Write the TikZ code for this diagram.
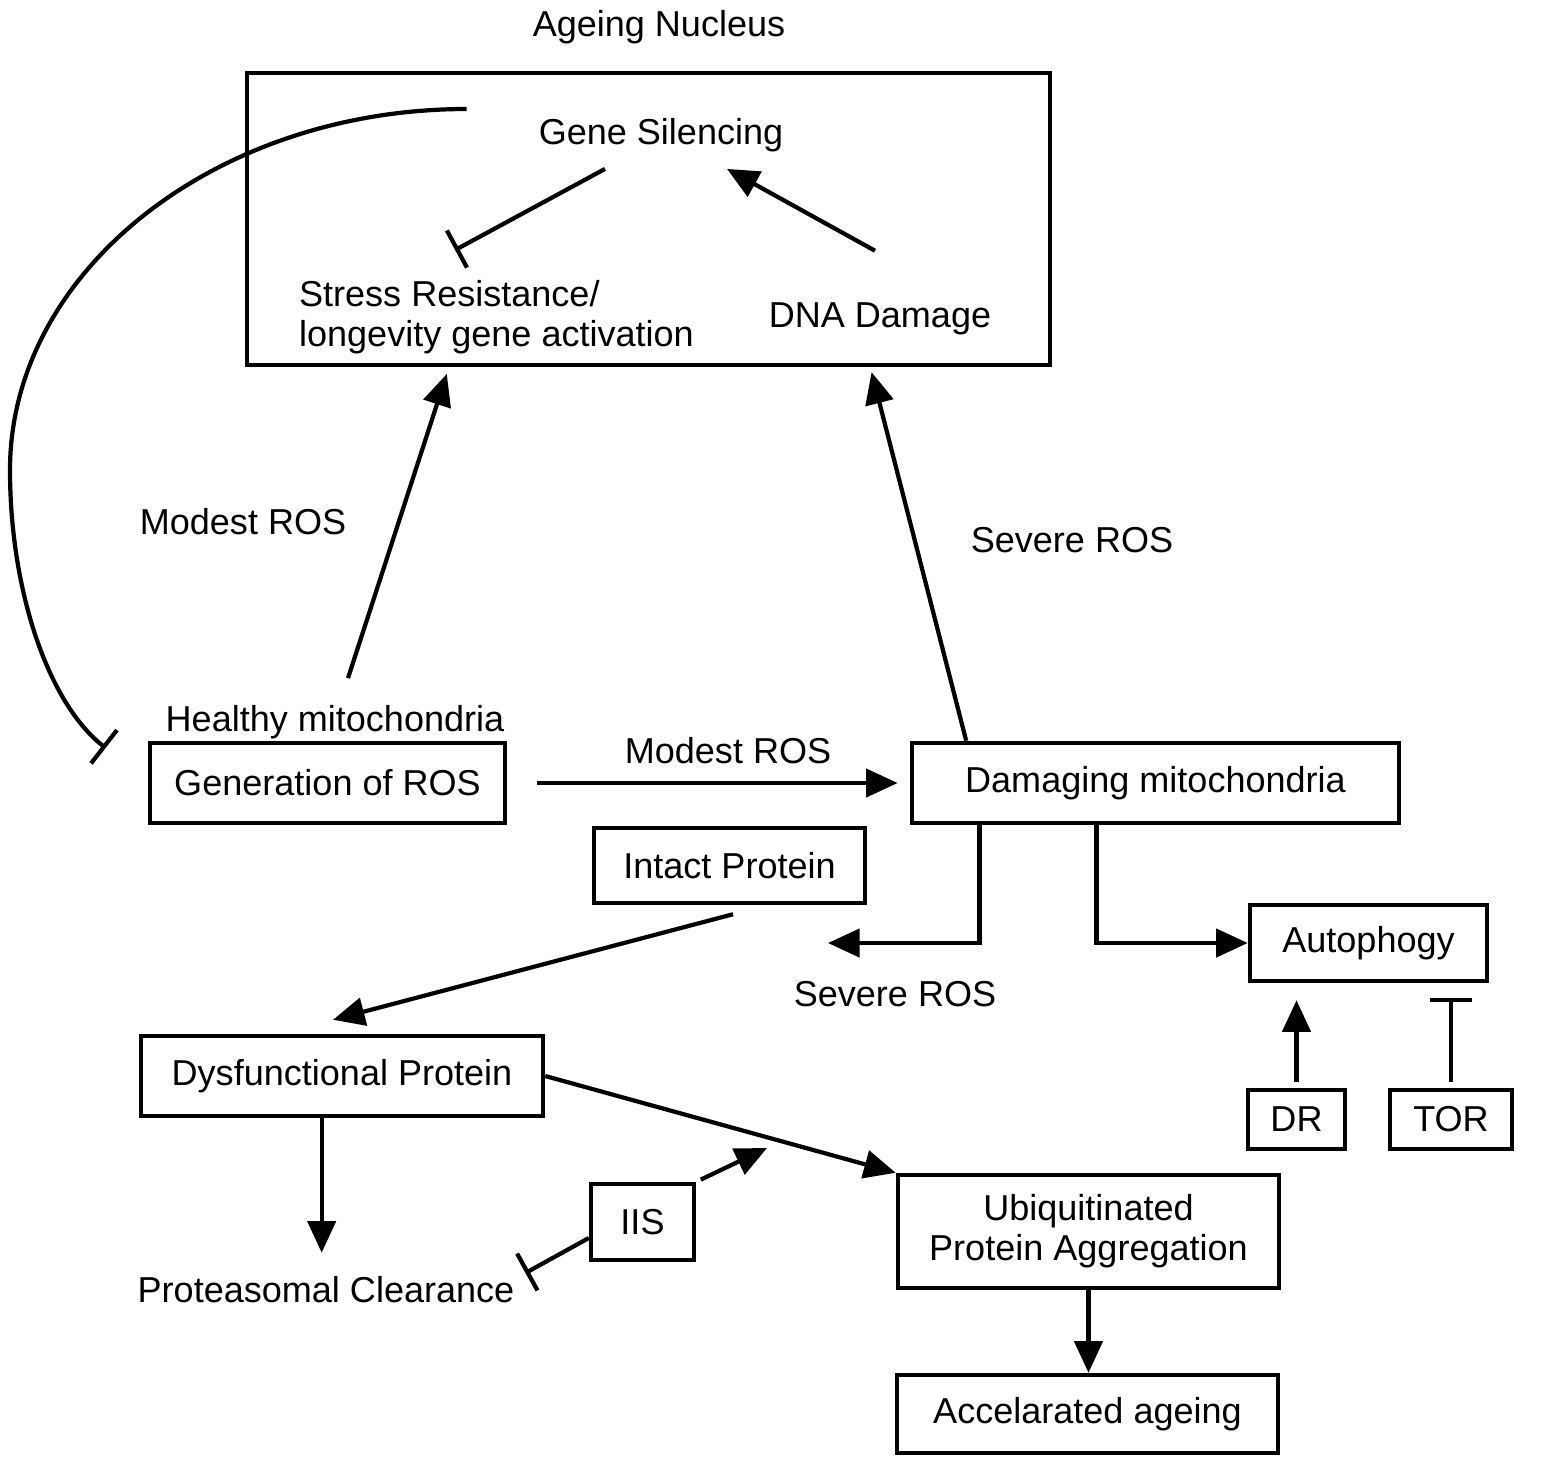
\documentclass[tikz,border=0pt]{standalone}
\usepackage{fontspec}
\setmainfont{Liberation Sans}
\usetikzlibrary{arrows.meta,calc}
\begin{document}
\begin{tikzpicture}[x=0.01cm,y=-0.01cm,line width=1.2pt,
  every node/.style={font=\fontsize{10.25}{11.4}\selectfont,inner sep=0pt},
  box/.style={draw,line width=1.25pt,inner sep=0pt},
  arr/.style={-{Triangle[length=9pt,width=8pt]}},
  inh/.style={-{Bar[width=12pt]}}]
\useasboundingbox (0,0) rectangle (1542,1465);
% nucleus
\node[box,minimum width=8.03cm,minimum height=2.92cm] (nucleus) at (648.5,219) {};
\node (title) at (659,27) {Ageing Nucleus};
\node (gs) at (661,135) {Gene Silencing};
\node[anchor=west,align=left] (ssr) at (297,317) {Stress Resistance/\\longevity gene activation};
\node (dna) at (880,319) {DNA Damage};
% mitochondria
\node (hm) at (335,722) {Healthy mitochondria};
\node[box,minimum width=3.55cm,minimum height=0.80cm] (gen) at (327.5,783) {Generation of ROS};
\node[box,minimum width=4.87cm,minimum height=0.80cm] (dam) at (1155.5,783) {Damaging mitochondria};
\node[box,minimum width=2.71cm,minimum height=0.75cm] (intact) at (729.5,865.5) {Intact Protein};
\node[box,minimum width=2.37cm,minimum height=0.76cm] (auto) at (1368.5,943) {Autophogy};
\node[box,minimum width=0.97cm,minimum height=0.59cm] (DR) at (1296.5,1119.5) {DR};
\node[box,minimum width=1.22cm,minimum height=0.59cm] (TOR) at (1451,1119.5) {TOR};
\node[box,minimum width=4.02cm,minimum height=0.80cm] (dys) at (342,1076) {Dysfunctional Protein};
\node[box,minimum width=1.03cm,minimum height=0.76cm] (IIS) at (642.5,1222) {IIS};
\node[box,minimum width=3.81cm,minimum height=1.13cm,align=center] (ubi) at (1088.5,1231.5) {Ubiquitinated\\Protein Aggregation};
\node[box,minimum width=3.81cm,minimum height=0.78cm] (acc) at (1087.5,1414) {Accelarated ageing};
\node (pc) at (326,1290) {Proteasomal Clearance};
% labels
\node (lmod1) at (243,522) {Modest ROS};
\node (lsev1) at (1072,540) {Severe ROS};
\node (lmod2) at (728,751) {Modest ROS};
\node (lsev2) at (895,994) {Severe ROS};
% free ends
\coordinate (sevEnd) at (828,943);
\coordinate (iisEnd) at (767,1148);
\coordinate (d1) at ($(dys.south west)!0.45!(dys.south east)$);
% connectors inside nucleus
\draw[inh] ([xshift=-0.56cm,yshift=-0.15cm]gs.south) -- ([xshift=1.58cm,yshift=0.28cm]ssr.north west);
\draw[arr] ([xshift=-0.05cm,yshift=0.50cm]dna.north) -- ([xshift=0.66cm,yshift=-0.15cm]gs.south);
% long curve: gene silencing inhibits generation of ROS
\draw[inh] ([xshift=-0.7cm,yshift=0.26cm]gs.west) .. controls (216,109) and (10,271) .. (10,470)
  .. controls (10,590) and (48,703) .. ([xshift=-0.42cm,yshift=0.35cm]gen.west);
% ROS arrows to nucleus
\draw[arr,shorten >=0.07cm] ([xshift=0.13cm,yshift=0.25cm]hm.north) -- ($(nucleus.south west)!0.253!(nucleus.south east)$);
\draw[arr,shorten >=0.05cm] ($(dam.north west)!0.115!(dam.north east)$) -- ($(nucleus.south west)!0.7746!(nucleus.south east)$);
% gen -> dam
\draw[arr,shorten <=0.3cm,shorten >=0.12cm] (gen.east) -- (dam.west);
% dam elbows
\draw[arr] ($(dam.south west)!0.142!(dam.south east)$) |- (sevEnd);
\draw[arr] ($(dam.south west)!0.38!(dam.south east)$) |- (auto.west);
% DR, TOR
\draw[arr,shorten <=0.06cm,shorten >=0.17cm] (DR.north) -- (DR.north |- auto.south);
\draw[inh,shorten <=0.06cm,shorten >=0.15cm] (TOR.north) -- (TOR.north |- auto.south);
% protein
\draw[arr] ([xshift=0.035cm,yshift=-0.09cm]intact.south) -- ([xshift=-0.09cm,yshift=0.14cm]dys.north);
\draw[arr,shorten >=0.22cm] (d1) -- (d1 |- pc.north);
\draw[inh] ([yshift=-0.16cm]IIS.west) -- ([xshift=0.09cm,yshift=0.17cm]pc.east);
\draw[arr,shorten <=0.05cm] (IIS.north east) -- (iisEnd);
\draw[arr] (dys.east) -- (ubi.north west);
\draw[arr] (ubi.south) -- (ubi.south |- acc.north);
\end{tikzpicture}
\end{document}
